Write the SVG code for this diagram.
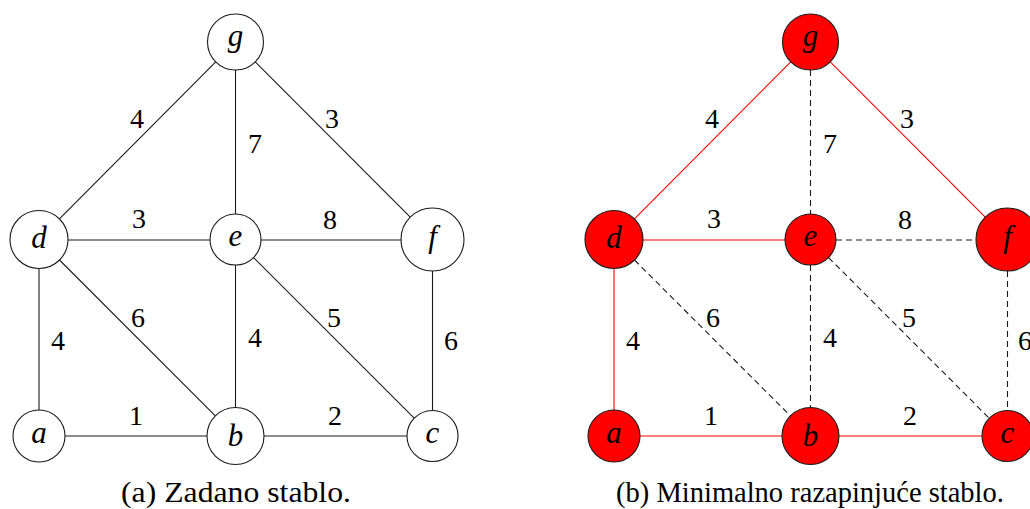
<svg xmlns="http://www.w3.org/2000/svg" width="1030" height="509" viewBox="0 0 1030 509">
<style>
.bg{fill:#fff}
.n{fill:#fff;stroke:#1a1a1a;stroke-width:1.1}
.nr{fill:#ff0000;stroke:#1a1a1a;stroke-width:1.1}
.e{stroke:#1a1a1a;stroke-width:1.1;fill:none}
.er{stroke:#ff0000;stroke-width:1.1;fill:none}
.ed{stroke:#1a1a1a;stroke-width:1.1;fill:none;stroke-dasharray:6,4}
text{font-family:'Liberation Serif','Times New Roman',serif;fill:#000;text-anchor:middle}
.lbl{font-size:31px;font-style:italic}
.w{font-size:28px}
.cap{font-size:28.5px}
</style>
<rect class="bg" x="0" y="0" width="1030" height="509"/>
<g id="connectors">
  <g id="edges-a">
    <line class="e" x1="215.75" y1="61.85" x2="59.45" y2="218.94"/>
    <line class="e" x1="235.5" y1="70" x2="235.5" y2="214"/>
    <line class="e" x1="255.27" y1="61.82" x2="410.25" y2="217.2"/>
    <line class="e" x1="68" y1="240" x2="210" y2="240"/>
    <line class="e" x1="261" y1="240" x2="401" y2="240"/>
    <line class="e" x1="39" y1="268.5" x2="39" y2="410"/>
    <line class="e" x1="59.5" y1="260" x2="215.35" y2="415.85"/>
    <line class="e" x1="235.5" y1="265" x2="235.5" y2="407.5"/>
    <line class="e" x1="253.53" y1="257.53" x2="414.47" y2="418.47"/>
    <line class="e" x1="432.5" y1="271" x2="432.5" y2="410.5"/>
    <line class="e" x1="65" y1="436" x2="207" y2="436"/>
    <line class="e" x1="264" y1="436" x2="407" y2="436"/>
  </g>
  <g id="edges-b">
    <line class="er" x1="790.75" y1="61.85" x2="634.45" y2="218.94"/>
    <line class="ed" x1="810.5" y1="70" x2="810.5" y2="214"/>
    <line class="er" x1="830.27" y1="61.82" x2="985.25" y2="217.2"/>
    <line class="er" x1="643" y1="240" x2="785" y2="240"/>
    <line class="ed" x1="836" y1="240" x2="976" y2="240"/>
    <line class="er" x1="614" y1="268.5" x2="614" y2="410"/>
    <line class="ed" x1="634.5" y1="260" x2="790.35" y2="415.85"/>
    <line class="ed" x1="810.5" y1="265" x2="810.5" y2="407.5"/>
    <line class="ed" x1="828.53" y1="257.53" x2="989.47" y2="418.47"/>
    <line class="ed" x1="1007.5" y1="271" x2="1007.5" y2="410.5"/>
    <line class="er" x1="640" y1="436" x2="782" y2="436"/>
    <line class="er" x1="839" y1="436" x2="982" y2="436"/>
  </g>
</g>
<g id="weights-a">
  <text class="w" x="137" y="128">4</text>
  <text class="w" x="255" y="153">7</text>
  <text class="w" x="332" y="128">3</text>
  <text class="w" x="139" y="228">3</text>
  <text class="w" x="330" y="229">8</text>
  <text class="w" x="138" y="327">6</text>
  <text class="w" x="334" y="327">5</text>
  <text class="w" x="58" y="350">4</text>
  <text class="w" x="255" y="347">4</text>
  <text class="w" x="451" y="350">6</text>
  <text class="w" x="136" y="425">1</text>
  <text class="w" x="335" y="425">2</text>
</g>
<g id="weights-b">
  <text class="w" x="712" y="128">4</text>
  <text class="w" x="830" y="153">7</text>
  <text class="w" x="907" y="128">3</text>
  <text class="w" x="714" y="228">3</text>
  <text class="w" x="905" y="229">8</text>
  <text class="w" x="713" y="327">6</text>
  <text class="w" x="909" y="327">5</text>
  <text class="w" x="633" y="350">4</text>
  <text class="w" x="830" y="347">4</text>
  <text class="w" x="1025" y="350">6</text>
  <text class="w" x="711" y="425">1</text>
  <text class="w" x="910" y="425">2</text>
</g>
<g id="a-g"><circle class="n" cx="235.5" cy="42" r="28"/><text class="lbl" x="235.5" y="46">g</text></g>
<g id="a-d"><circle class="n" cx="39" cy="239.5" r="29"/><text class="lbl" x="39" y="248">d</text></g>
<g id="a-e"><circle class="n" cx="235.5" cy="239.5" r="25.5"/><text class="lbl" x="235.5" y="246">e</text></g>
<g id="a-f"><circle class="n" cx="432.5" cy="239.5" r="31.5"/><text class="lbl" x="432.5" y="247">f</text></g>
<g id="a-a"><circle class="n" cx="39" cy="436" r="26"/><text class="lbl" x="39" y="443">a</text></g>
<g id="a-b"><circle class="n" cx="235.5" cy="436" r="28.5"/><text class="lbl" x="235.5" y="446">b</text></g>
<g id="a-c"><circle class="n" cx="432.5" cy="436" r="25.5"/><text class="lbl" x="432.5" y="443">c</text></g>
<g id="b-g"><circle class="nr" cx="810.5" cy="42" r="28"/><text class="lbl" x="810.5" y="46">g</text></g>
<g id="b-d"><circle class="nr" cx="614" cy="239.5" r="29"/><text class="lbl" x="614" y="248">d</text></g>
<g id="b-e"><circle class="nr" cx="810.5" cy="239.5" r="25.5"/><text class="lbl" x="810.5" y="246">e</text></g>
<g id="b-f"><circle class="nr" cx="1007.5" cy="239.5" r="31.5"/><text class="lbl" x="1007.5" y="247">f</text></g>
<g id="b-a"><circle class="nr" cx="614" cy="436" r="26"/><text class="lbl" x="614" y="443">a</text></g>
<g id="b-b"><circle class="nr" cx="810.5" cy="436" r="28.5"/><text class="lbl" x="810.5" y="446">b</text></g>
<g id="b-c"><circle class="nr" cx="1007.5" cy="436" r="25.5"/><text class="lbl" x="1007.5" y="443">c</text></g>
<g id="captions">
  <text class="cap" x="236" y="502" textLength="230" lengthAdjust="spacingAndGlyphs">(a) Zadano stablo.</text>
  <text class="cap" x="810" y="502">(b) Minimalno razapinjuće stablo.</text>
</g>
</svg>
